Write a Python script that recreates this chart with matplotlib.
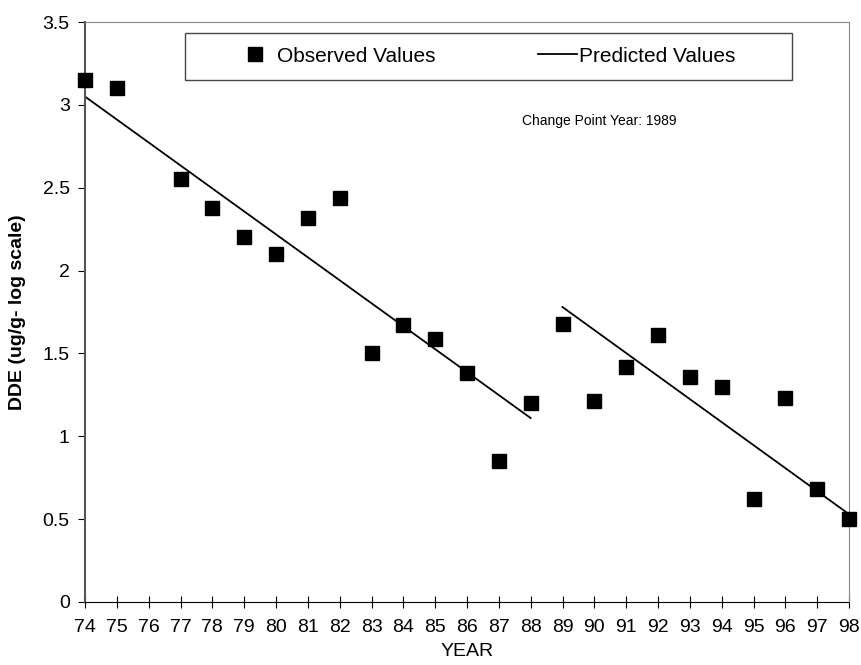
import matplotlib

matplotlib.use("Agg")
import matplotlib.pyplot as plt
from matplotlib.patches import Rectangle

plt.rcParams["font.family"] = ["Liberation Sans", "DejaVu Sans"]

years = list(range(74, 99))
obs_years = [74, 75, 77, 78, 79, 80, 81, 82, 83, 84, 85, 86, 87, 88,
             89, 90, 91, 92, 93, 94, 95, 96, 97, 98]
obs_dde = [3.15, 3.10, 2.55, 2.38, 2.20, 2.10, 2.32, 2.44, 1.50, 1.67, 1.59, 1.38, 0.85, 1.20,
           1.68, 1.21, 1.42, 1.61, 1.36, 1.30, 0.62, 1.23, 0.68, 0.50]
pred1_years = [74, 88]
pred1_dde = [3.05, 1.11]
pred2_years = [89, 98]
pred2_dde = [1.78, 0.53]

W, H = 861, 665
fig = plt.figure(figsize=(W / 100, H / 100), dpi=100)
ax = fig.add_axes([85 / W, 1 - 602 / H, 764 / W, 580 / H])

ax.plot(obs_years, obs_dde, "s", color="black", markersize=10, linestyle="none",
        label="Observed Values", clip_on=False, zorder=3)
ax.plot(pred1_years, pred1_dde, color="black", lw=1.3, label="Predicted Values")
ax.plot(pred2_years, pred2_dde, color="black", lw=1.3)

ax.set_xlim(74, 98)
ax.set_ylim(0, 3.5)
ax.set_xticks(years, labels=[str(y) for y in years])
ax.set_yticks([0, 0.5, 1, 1.5, 2, 2.5, 3, 3.5], labels=["0", "0.5", "1", "1.5", "2", "2.5", "3", "3.5"])
ax.tick_params(axis="x", direction="inout", length=8, labelsize=14, pad=8)
ax.tick_params(axis="y", direction="out", length=5, labelsize=14, pad=6)
ax.spines["top"].set_color("#888888")
ax.spines["right"].set_color("#888888")
ax.spines["left"].set_color("#555555")
ax.spines["left"].set_linewidth(1.5)
ax.spines["bottom"].set_color("black")

ax.set_xlabel("YEAR", fontsize=14, labelpad=5)
ax.set_ylabel("DDE (ug/g- log scale)", fontsize=14, fontweight="bold", labelpad=12)

ax.text((599 - 85) / 764, (602 - 121) / 580, "Change Point Year: 1989", transform=ax.transAxes,
        fontsize=10, ha="center", va="center")

# legend frame drawn separately so the entries can sit where they do in the original
fig.patches.append(Rectangle((185 / W, 1 - 80 / H), (792 - 185) / W, 47 / H,
                             transform=fig.transFigure, fill=False,
                             edgecolor="#444444", lw=1.0))
ax.legend(loc="center left", bbox_to_anchor=(235.5 / W, 1 - 56 / H),
          bbox_transform=fig.transFigure, ncol=2, frameon=False,
          fontsize=15, handlelength=1.87, handletextpad=0.12, columnspacing=4.9,
          borderpad=0, borderaxespad=0)

fig.savefig("out.png", dpi=100)
